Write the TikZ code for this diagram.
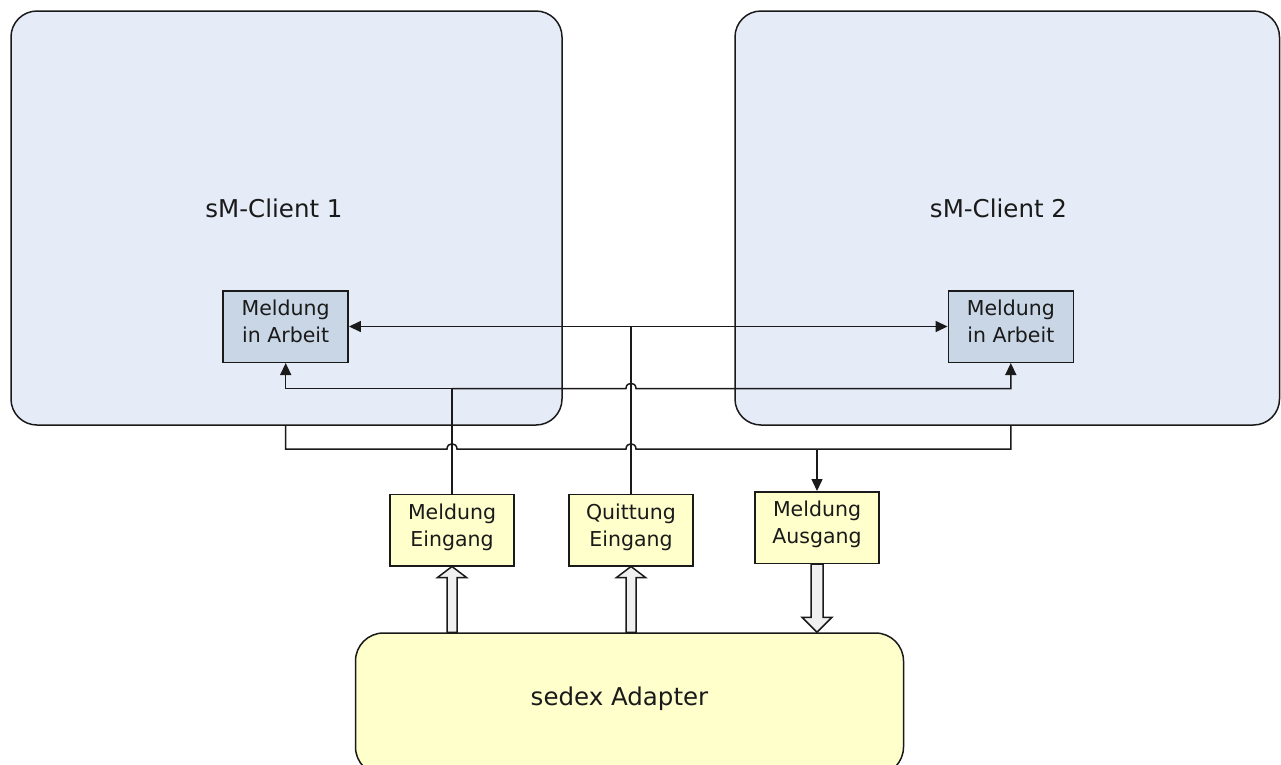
\documentclass[tikz,border=0pt]{standalone}
\usepackage{fontspec}
\setmainfont{DejaVu Sans}
\usetikzlibrary{arrows.meta,calc}
\definecolor{clientfill}{HTML}{E6ECF7}
\definecolor{workfill}{HTML}{C9D6E6}
\definecolor{yel}{HTML}{FFFFCC}
\definecolor{arrfill}{HTML}{F0F0F0}
\definecolor{ink}{HTML}{1A1A1A}
\newcommand\hollowup[2]{%
  \draw[hollow] let \p1=(#1.south), \p2=(#2.north) in
    (\x1-5pt,\y2) -- (\x1-5pt,\y1-11pt) -- (\x1-14.5pt,\y1-11pt) -- (\x1,\y1)
    -- (\x1+14.5pt,\y1-11pt) -- (\x1+5pt,\y1-11pt) -- (\x1+5pt,\y2) -- cycle;}
\newcommand\hollowdown[2]{%
  \draw[hollow] let \p1=(#1.south), \p2=(#2.north) in
    (\x1-6pt,\y1) -- (\x1-6pt,\y2+15pt) -- (\x1-15pt,\y2+15pt) -- (\x1,\y2)
    -- (\x1+15pt,\y2+15pt) -- (\x1+6pt,\y2+15pt) -- (\x1+6pt,\y1) -- cycle;}
\begin{document}
\begin{tikzpicture}[x=1pt,y=-1pt,
  client/.style={draw=ink,line width=1.5pt,fill=clientfill,rounded corners=26pt,inner sep=0pt},
  adapter/.style={draw=ink,line width=1.5pt,fill=yel,rounded corners=28pt,inner sep=0pt},
  bigtext/.style={font=\fontsize{24.5}{29}\selectfont,text=ink,inner sep=0pt,anchor=base},
  boxtext/.style={font=\fontsize{20.5}{27}\selectfont,text=ink,align=center,
    text height=36pt,text depth=4pt,inner sep=0pt},
  work/.style={boxtext,draw=ink,line width=1.5pt,fill=workfill,minimum width=125pt,minimum height=71.5pt},
  queue/.style={boxtext,draw=ink,line width=1.5pt,fill=yel,minimum width=124pt,minimum height=71.5pt},
  conn/.style={draw=ink,line width=1.5pt},
  arr/.style={conn,-{Triangle[length=12pt,width=11pt]}},
  dblarr/.style={conn,{Triangle[length=12pt,width=11pt]}-{Triangle[length=12pt,width=11pt]}},
  hollow/.style={draw=ink,line width=1.5pt,fill=arrfill,line join=miter}]
\clip (0,0) rectangle (1281,764);
\fill[white] (0,0) rectangle (1281,764);

% clients
\node[client,minimum width=551pt,minimum height=414pt] (c1) at (286.5,218) {};
\node[client,minimum width=544.5pt,minimum height=414pt] (c2) at (1007.25,218) {};
\node[bigtext] (l1) at (274,217) {sM-Client 1};
\node[bigtext] (l2) at (998.5,217) {sM-Client 2};

% adapter
\node[adapter,minimum width=548pt,minimum height=142pt] (ad) at (629.5,704) {};
\node[bigtext] (la) at (619.5,705) {sedex Adapter};

% boxes
\node[work] (m1) at (285.7,326.5) {Meldung\\in Arbeit};
\node[work] (m2) at (1010.8,326.5) {Meldung\\in Arbeit};
\node[queue] (me) at (452,530) {Meldung\\Eingang};
\node[queue] (qe) at (631,530) {Quittung\\Eingang};
\node[queue] (ma) at (817,527.5) {Meldung\\Ausgang};

% junctions
\coordinate (q) at (qe.north |- m1.east);
\coordinate (k) at ($(me.north)+(0,-105)$);
\coordinate (b) at ($(ma.north)+(0,-42)$);

% Quittung Eingang -> both
\draw[conn] (qe.north) -- (q);
\draw[dblarr] (m1.east) -- (m2.west);

% Meldung Eingang -> both
\draw[conn] (me.north) -- (k);
\draw[arr] (k) -| (m1.south);
\draw[arr] (k) -- ($(k -| qe.north)+(-5,0)$) .. controls +(0,-7) and +(0,-7) .. ($(k -| qe.north)+(5,0)$) -| (m2.south);

% both -> Meldung Ausgang
\draw[conn] (c1.south -| m1.south) |- ($(b -| me.north)+(-5,0)$)
  .. controls +(0,-7) and +(0,-7) .. ($(b -| me.north)+(5,0)$)
  -- ($(b -| qe.north)+(-5,0)$)
  .. controls +(0,-7) and +(0,-7) .. ($(b -| qe.north)+(5,0)$)
  -| (c2.south -| m2.south);
\draw[arr] (b) -- (ma.north);

% hollow arrows
\hollowup{me}{ad}
\hollowup{qe}{ad}
\hollowdown{ma}{ad}
\end{tikzpicture}
\end{document}
